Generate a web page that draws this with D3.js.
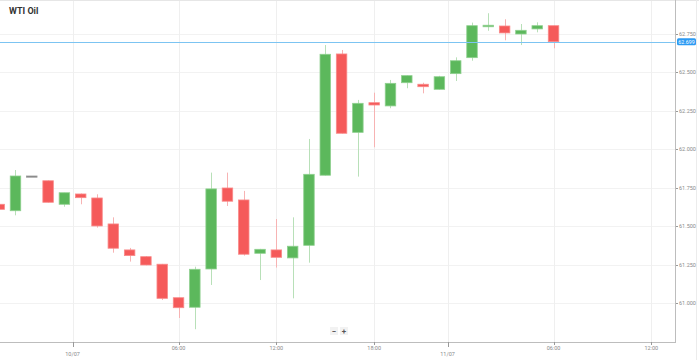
<!DOCTYPE html>
<html><head><meta charset="utf-8">
<script src="https://cdn.jsdelivr.net/npm/d3@7"></script>
<style>
html,body{margin:0;padding:0;background:#fff;}
svg{display:block;font-family:Roboto,"Liberation Sans",Arial,sans-serif;}
</style></head>
<body><svg id="c" width="699" height="360"></svg>
<script>
// Hourly candles, index 0..34 (10/07 00:00 = index 5, 11/07 00:00 = index 28)
const opens  = [61.642,61.600,61.826,61.795,61.642,61.709,61.683,61.514,61.345,61.301,61.252,61.034,60.972,61.221,61.748,61.670,61.323,61.345,61.293,61.375,61.831,62.620,62.110,62.303,62.282,62.433,62.423,62.390,62.492,62.596,62.797,62.802,62.750,62.783,62.804];
const highs  = [61.645,61.865,61.826,61.797,61.717,61.712,61.707,61.557,61.358,61.305,61.254,61.036,61.236,61.848,61.848,61.729,61.352,61.546,61.557,62.067,62.678,62.646,62.321,62.368,62.451,62.481,62.433,62.478,62.598,62.824,62.885,62.846,62.815,62.826,62.805];
const lows   = [61.606,61.570,61.826,61.653,61.626,61.642,61.490,61.327,61.269,61.245,61.019,60.902,60.829,61.117,61.631,61.308,61.149,61.230,61.030,61.262,61.829,62.102,61.822,62.013,62.267,62.397,62.364,62.388,62.444,62.576,62.771,62.709,62.678,62.761,62.657];
const closes = [61.609,61.826,61.826,61.655,61.717,61.685,61.501,61.356,61.308,61.247,61.030,60.969,61.219,61.742,61.662,61.317,61.349,61.297,61.369,61.837,62.618,62.104,62.299,62.288,62.429,62.479,62.407,62.472,62.576,62.804,62.807,62.757,62.774,62.804,62.700];
const yTicks = [61.000,61.250,61.500,61.750,62.000,62.250,62.500,62.750];
const xTickPos    = [4.5, 11, 17, 23, 27.5, 34, 40];
const xTickLabels = ["10/07","06:00","12:00","18:00","11/07","06:00","12:00"];
const xTickIsDay  = [true,false,false,false,true,false,false];
const lastPrice = 62.699;
const title = "WTI Oil";

const svg = d3.select("#c");
const plotL = 0, plotR = 675, plotT = 0, plotB = 342;
const x = d3.scaleLinear().domain([0.05, 41.45]).range([plotL, plotR]);
const y = d3.scaleLinear().domain([60.7836, 62.9712]).range([336.2, 0]);

const green = "#5cb85c", greenLight = "#8fd08f", greenWick = "#b8e0b8";
const red = "#f55a5a", redLight = "#f98a8a", redWick = "#f7b3b3";

const clip = svg.append("defs").append("clipPath").attr("id","pc")
  .append("rect").attr("x",plotL).attr("y",plotT).attr("width",plotR-plotL).attr("height",plotB-plotT);

// grid
const g = svg.append("g");
g.selectAll(".hg").data(yTicks).enter().append("line")
  .attr("x1",plotL).attr("x2",plotR)
  .attr("y1",d=>Math.round(y(d))+0.5).attr("y2",d=>Math.round(y(d))+0.5)
  .attr("stroke","#f2f2f2");
g.selectAll(".vg").data(xTickPos).enter().append("line")
  .attr("x1",d=>Math.round(x(d))+0.5).attr("x2",d=>Math.round(x(d))+0.5)
  .attr("y1",plotT).attr("y2",plotB)
  .attr("stroke","#efefef");

// frame
svg.append("line").attr("x1",0).attr("x2",699).attr("y1",0.5).attr("y2",0.5).attr("stroke","#e6e6e6");
svg.append("line").attr("x1",plotR+0.5).attr("x2",plotR+0.5).attr("y1",0).attr("y2",plotB).attr("stroke","#bdbdbd");
svg.append("line").attr("x1",0).attr("x2",plotR+1).attr("y1",plotB+0.5).attr("y2",plotB+0.5).attr("stroke","#bdbdbd");
svg.append("line").attr("x1",696.5).attr("x2",696.5).attr("y1",0).attr("y2",360).attr("stroke","#ececec");

// candles
const data = opens.map((o,i)=>({i,o,h:highs[i],l:lows[i],c:closes[i]}));
const cg = svg.append("g").attr("clip-path","url(#pc)");
const bw = 10.5;
const col = d => d.c > d.o ? green : d.c < d.o ? red : "#777";
const colL = d => d.c > d.o ? greenLight : d.c < d.o ? redLight : "#999";
const colW = d => d.c > d.o ? greenWick : d.c < d.o ? redWick : "#bbb";
cg.selectAll(".wick").data(data).enter().append("line")
  .attr("x1",d=>Math.round(x(d.i))+0.5).attr("x2",d=>Math.round(x(d.i))+0.5)
  .attr("y1",d=>y(d.h)).attr("y2",d=>y(d.l))
  .attr("stroke",colW).attr("stroke-width",1);
cg.selectAll(".body").data(data).enter().append("rect")
  .attr("x",d=>x(d.i)-bw/2)
  .attr("width",bw)
  .attr("y",d=>y(Math.max(d.o,d.c)))
  .attr("height",d=>Math.max(1.2, Math.abs(y(d.o)-y(d.c))))
  .attr("fill",col)
  .attr("stroke",colL).attr("stroke-width",0.8);

// axis ticks & labels
const ya = svg.append("g");
ya.selectAll("line").data(yTicks).enter().append("line")
  .attr("x1",plotR+1).attr("x2",plotR+3)
  .attr("y1",d=>Math.round(y(d))+0.5).attr("y2",d=>Math.round(y(d))+0.5)
  .attr("stroke","#999");
ya.selectAll("text").data(yTicks).enter().append("text")
  .attr("x",679).attr("y",d=>y(d)+2)
  .attr("font-size",5.5).attr("fill","#8a8a8a")
  .text(d=>d3.format(".3f")(d));

const xa = svg.append("g");
xa.selectAll("line").data(xTickPos).enter().append("line")
  .attr("x1",d=>Math.round(x(d))+0.5).attr("x2",d=>Math.round(x(d))+0.5)
  .attr("y1",plotB).attr("y2",(d,i)=>plotB + (xTickIsDay[i]?5:3))
  .attr("stroke","#999");
xa.selectAll("text").data(xTickPos).enter().append("text")
  .attr("x",d=>x(d)).attr("y",(d,i)=>xTickIsDay[i]?356:349.5)
  .attr("text-anchor","middle")
  .attr("font-size",5.5).attr("fill","#8a8a8a")
  .text((d,i)=>xTickLabels[i]);

// last price line + label
svg.append("line").attr("x1",0).attr("x2",plotR)
  .attr("y1",Math.round(y(lastPrice))+0.5).attr("y2",Math.round(y(lastPrice))+0.5)
  .attr("stroke","#7cc4f2").attr("stroke-width",1);
svg.append("rect").attr("x",677).attr("y",y(lastPrice)-3.5).attr("width",19).attr("height",7).attr("rx",1.5)
  .attr("fill","#2b9af3");
svg.append("text").attr("x",686.5).attr("y",y(lastPrice)+2).attr("text-anchor","middle")
  .attr("font-size",5.3).attr("fill","#fff").text(d3.format(".3f")(lastPrice));

// zoom buttons
const zb = svg.append("g");
[["−",330],["+",340]].forEach(([t,bx])=>{
  zb.append("rect").attr("x",bx).attr("y",327).attr("width",8).attr("height",8).attr("fill","#f2f2f2");
  zb.append("text").attr("x",bx+4).attr("y",334).attr("text-anchor","middle").attr("font-size",8).attr("font-weight","bold").attr("fill","#555").text(t);
});

// title
svg.append("text").attr("x",9).attr("y",14).attr("font-size",9).attr("font-weight","bold")
  .attr("fill","#333").text(title);
</script></body></html>
